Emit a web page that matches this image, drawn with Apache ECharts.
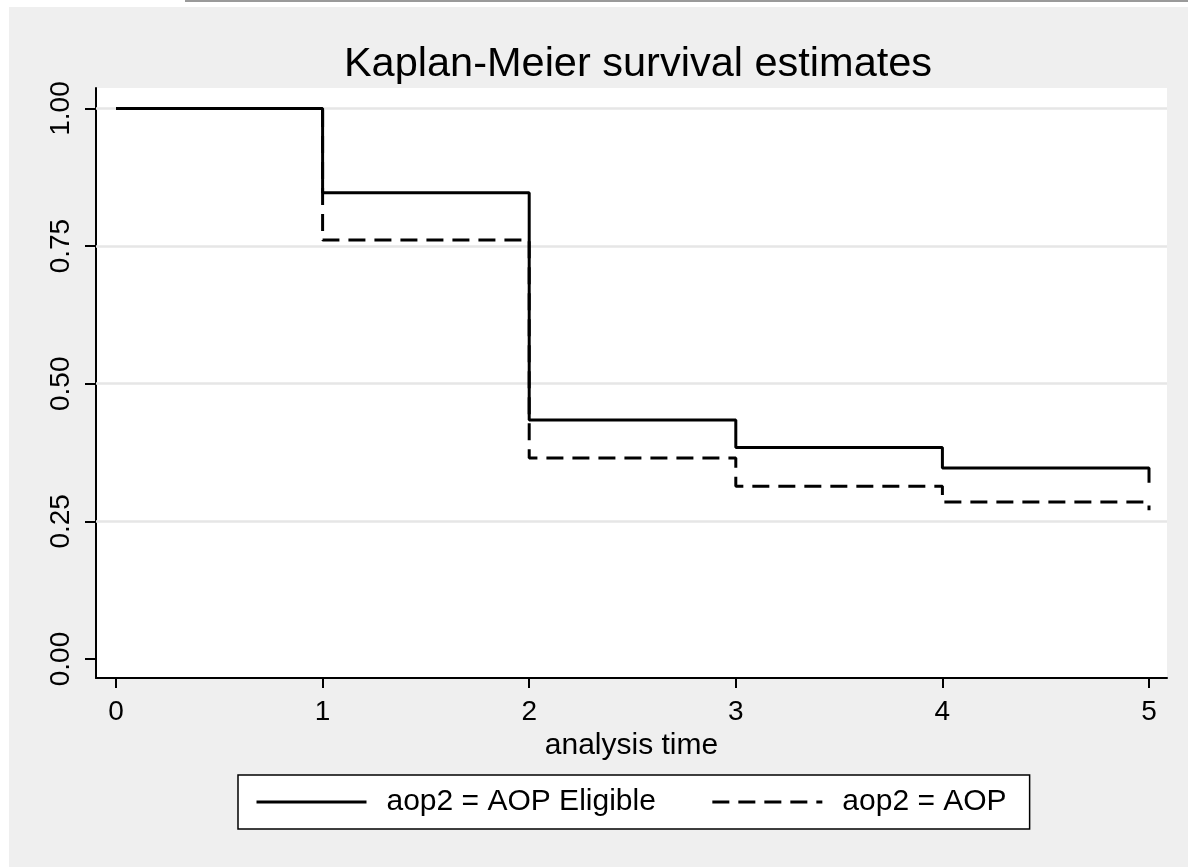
<!DOCTYPE html>
<html>
<head>
<meta charset="utf-8">
<script src="https://cdn.jsdelivr.net/npm/echarts@6/dist/echarts.min.js"></script>
<style>
  html, body { margin: 0; padding: 0; background: #ffffff; }
  #chart { width: 1188px; height: 867px; }
</style>
</head>
<body>
<div id="chart"></div>
<script>
// ---- data ----
const titleText = 'Kaplan-Meier survival estimates';
const xAxisName = 'analysis time';
const seriesNames = ['aop2 = AOP Eligible', 'aop2 = AOP'];
const times = [0, 1, 2, 3, 4, 5];
const survEligible = [1.000, 0.847, 0.434, 0.384, 0.347, 0.320];
const survAOP = [1.000, 0.761, 0.365, 0.314, 0.285, 0.270];
const xTickValues = [0, 1, 2, 3, 4, 5];
const yTickValues = [0, 0.25, 0.5, 0.75, 1];
const gridLineValues = [0.25, 0.5, 0.75, 1];

const FONT = '"Liberation Sans", Arial, sans-serif';
const chart = echarts.init(document.getElementById('chart'), null, { renderer: 'canvas' });

function pairs(xs, ys) { return xs.map((x, i) => [x, ys[i]]); }

const option = {
  backgroundColor: '#EFEFEF',
  animation: false,
  textStyle: { fontFamily: FONT },
  graphic: [
    { type: 'rect', shape: { x: 0, y: 0, width: 1188, height: 7 }, style: { fill: '#ffffff' }, silent: true },
    { type: 'rect', shape: { x: 0, y: 0, width: 9, height: 867 }, style: { fill: '#ffffff' }, silent: true },
    { type: 'rect', shape: { x: 185, y: 0, width: 1003, height: 2 }, style: { fill: '#9A9A9A' }, silent: true }
  ],
  title: {
    text: titleText,
    left: 633,
    top: 39,
    textAlign: 'center',
    textStyle: { fontFamily: FONT, fontSize: 41.5, fontWeight: 'normal', color: '#000' }
  },
  grid: {
    left: 96, right: 21, top: 88, bottom: 189,
    show: true, backgroundColor: '#ffffff', borderWidth: 0,
    containLabel: false
  },
  xAxis: {
    type: 'value',
    min: -0.0968, max: 5.0871,
    name: xAxisName,
    nameLocation: 'middle',
    nameGap: 48,
    nameTextStyle: { fontFamily: FONT, fontSize: 30, color: '#000' },
    axisLine: { show: true, onZero: false, lineStyle: { color: '#000', width: 2 } },
    axisTick: { show: true, length: 10, customValues: xTickValues, lineStyle: { color: '#000', width: 2 } },
    axisLabel: { show: true, customValues: xTickValues, margin: 20, fontFamily: FONT, fontSize: 28, color: '#000' },
    splitLine: { show: false }
  },
  yAxis: {
    type: 'value',
    min: -0.0345, max: 1.0372,
    axisLine: { show: true, onZero: false, lineStyle: { color: '#000', width: 2 } },
    axisTick: { show: true, length: 11, customValues: yTickValues, lineStyle: { color: '#000', width: 2 } },
    axisLabel: {
      show: true, customValues: yTickValues, rotate: 90, margin: 21,
      fontFamily: FONT, fontSize: 28, color: '#000',
      formatter: v => Number(v).toFixed(2)
    },
    splitLine: { show: false }
  },
  legend: {
    data: seriesNames,
    left: 238,
    top: 775,
    orient: 'horizontal',
    backgroundColor: '#ffffff',
    borderColor: '#000',
    borderWidth: 1.5,
    borderRadius: 0,
    padding: [12, 23, 12, 17],
    itemWidth: 110,
    itemHeight: 16,
    itemGap: 55,
    selectedMode: false,
    itemStyle: { color: 'rgba(0,0,0,0)', borderWidth: 0, opacity: 0 },
    lineStyle: { width: 3, color: '#000' },
    textStyle: { fontFamily: FONT, fontSize: 30, color: '#000', padding: [0, 0, 0, 15] }
  },
  series: [
    {
      name: 'grid',
      type: 'line',
      data: [],
      silent: true,
      z: 1,
      markLine: {
        silent: true,
        symbol: 'none',
        z: 1,
        label: { show: false },
        lineStyle: { color: '#E6E6E6', width: 2.5, type: 'solid' },
        emphasis: { disabled: true },
        data: gridLineValues.map(v => ({ yAxis: v }))
      }
    },
    {
      name: seriesNames[0],
      type: 'line',
      step: 'end',
      z: 3,
      showSymbol: false,
      symbol: 'none',
      data: pairs(times, survEligible),
      lineStyle: { color: '#000', width: 3, type: 'solid' },
      itemStyle: { color: '#000' }
    },
    {
      name: seriesNames[1],
      type: 'line',
      step: 'end',
      z: 4,
      showSymbol: false,
      symbol: 'none',
      data: pairs(times, survAOP),
      lineStyle: { color: '#000', width: 3, type: [17, 9] },
      itemStyle: { color: '#000' }
    }
  ]
};
chart.setOption(option);
</script>
</body>
</html>
